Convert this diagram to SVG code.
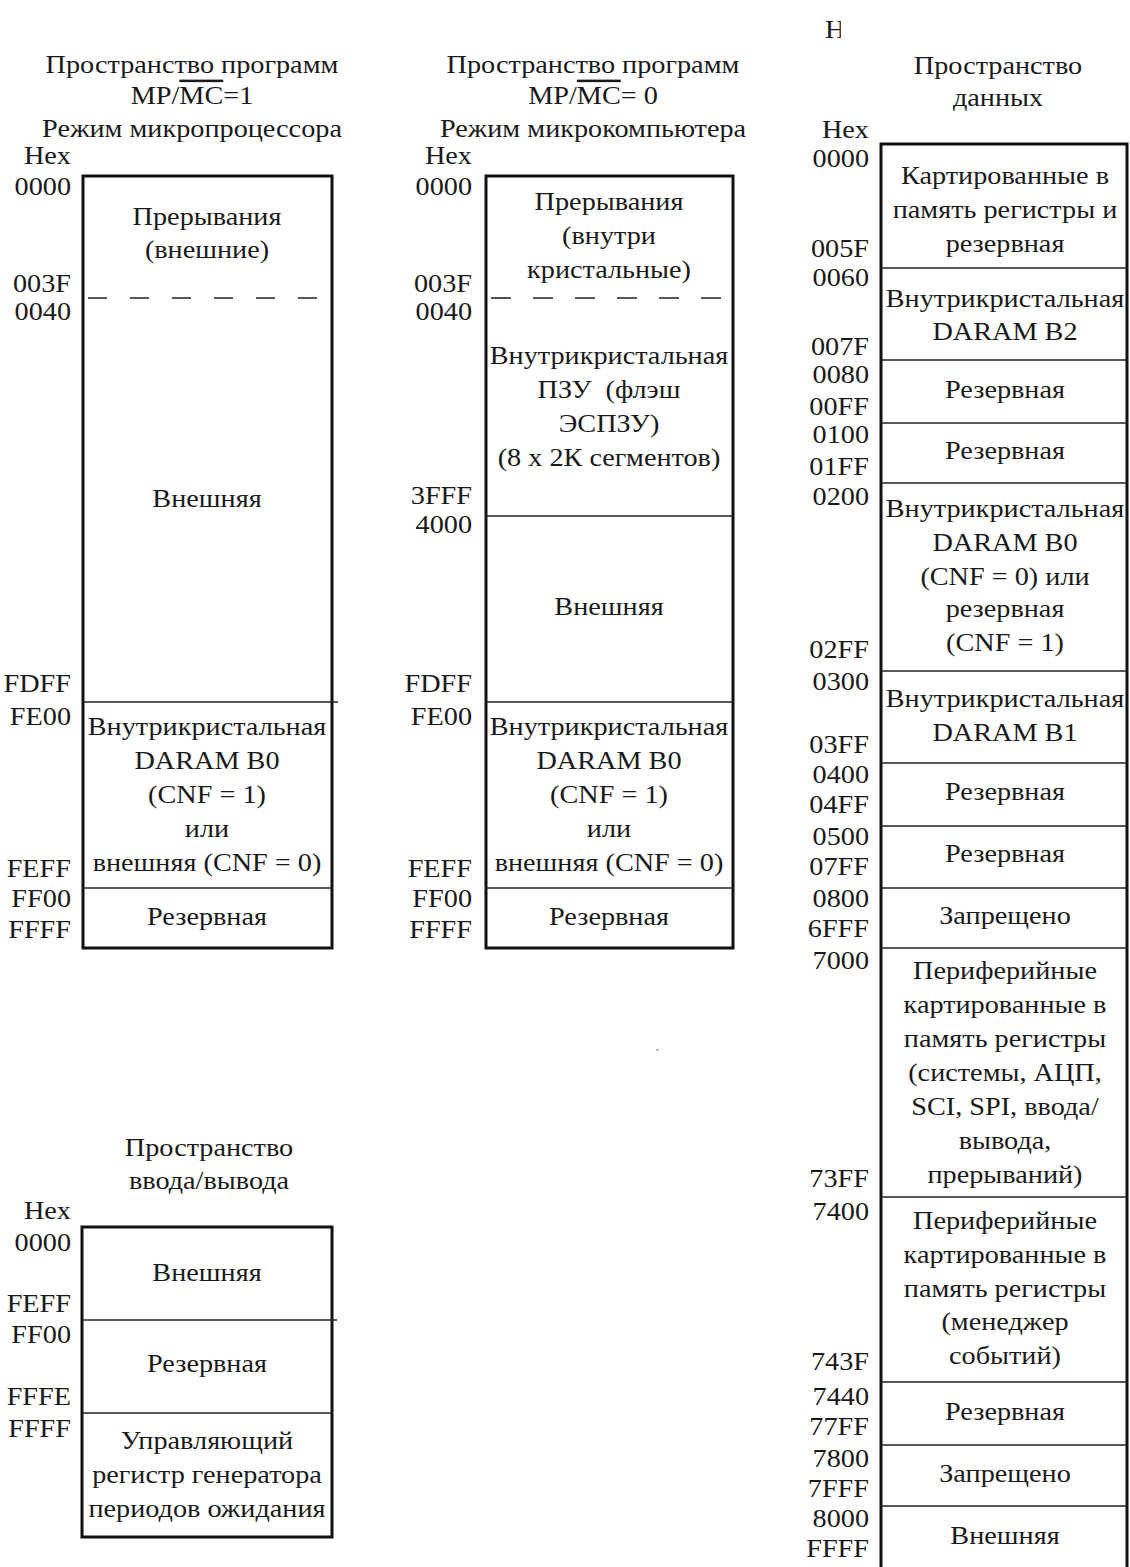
<svg xmlns="http://www.w3.org/2000/svg" width="1130" height="1567" viewBox="0 0 1130 1567">
<style>
text{font-family:"Liberation Serif","Times New Roman",serif;font-size:25px;fill:#1a1a1a}
.c text{text-anchor:middle}
.a text{text-anchor:end}
.box{fill:none;stroke:#111;stroke-width:3}
.div{stroke:#222;stroke-width:1.6;fill:none}
.dash{stroke:#222;stroke-width:1.6;stroke-dasharray:19 23;fill:none}
.ov{text-decoration:overline}
</style>
<defs>
<clipPath id="cutH"><rect x="800" y="0" width="39" height="60"/></clipPath>
</defs>
<rect width="1130" height="1567" fill="#fff"/>

<!-- stray fragment at top -->
<text x="825" y="38" clip-path="url(#cutH)" transform="translate(825 0) scale(1.13 1) translate(-825 0)">Н</text>

<!-- Program space, microprocessor mode -->
<g id="prog-mp">
  <g class="c" transform="translate(192 0) scale(1.13 1)">
    <text y="73">Пространство программ</text>
    <text y="104">MP/<tspan class="ov">MC</tspan>=1</text>
    <text y="137">Режим микропроцессора</text>
  </g>
  <g class="a" transform="translate(71 0) scale(1.13 1)">
    <text y="164">Hex</text>
    <text y="195">0000</text>
    <text y="292">003F</text>
    <text y="320">0040</text>
    <text y="692">FDFF</text>
    <text y="725">FE00</text>
    <text y="877">FEFF</text>
    <text y="907">FF00</text>
    <text y="938">FFFF</text>
  </g>
  <rect class="box" x="83" y="176" width="249" height="772"/>
  <line class="dash" x1="88" y1="298" x2="326" y2="298"/>
  <line class="div" x1="83" y1="702" x2="338" y2="702"/>
  <line class="div" x1="83" y1="888" x2="332" y2="888"/>
  <g class="c" transform="translate(207 0) scale(1.13 1)">
    <text y="225">Прерывания</text>
    <text y="258">(внешние)</text>
    <text y="507">Внешняя</text>
    <text y="735">Внутрикристальная</text>
    <text y="769">DARAM B0</text>
    <text y="803">(CNF = 1)</text>
    <text y="837">или</text>
    <text y="871">внешняя (CNF = 0)</text>
    <text y="925">Резервная</text>
  </g>
</g>

<!-- Program space, microcomputer mode -->
<g id="prog-mc">
  <g class="c" transform="translate(593 0) scale(1.13 1)">
    <text y="73">Пространство программ</text>
    <text y="104">MP/<tspan class="ov">MC</tspan>= 0</text>
    <text y="137">Режим микрокомпьютера</text>
  </g>
  <g class="a" transform="translate(472 0) scale(1.13 1)">
    <text y="164">Hex</text>
    <text y="195">0000</text>
    <text y="292">003F</text>
    <text y="320">0040</text>
    <text y="504">3FFF</text>
    <text y="533">4000</text>
    <text y="692">FDFF</text>
    <text y="725">FE00</text>
    <text y="877">FEFF</text>
    <text y="907">FF00</text>
    <text y="938">FFFF</text>
  </g>
  <rect class="box" x="486" y="176" width="247" height="772"/>
  <line class="dash" x1="491" y1="298" x2="728" y2="298" style="stroke-dasharray:20 22"/>
  <line class="div" x1="486" y1="516" x2="733" y2="516"/>
  <line class="div" x1="486" y1="702" x2="733" y2="702"/>
  <line class="div" x1="486" y1="888" x2="733" y2="888"/>
  <g class="c" transform="translate(609 0) scale(1.13 1)">
    <text y="210">Прерывания</text>
    <text y="244">(внутри</text>
    <text y="278">кристальные)</text>
    <text y="364">Внутрикристальная</text>
    <text y="398" xml:space="preserve">ПЗУ  (флэш</text>
    <text y="432">ЭСПЗУ)</text>
    <text y="466">(8 х 2К сегментов)</text>
    <text y="615">Внешняя</text>
    <text y="735">Внутрикристальная</text>
    <text y="769">DARAM B0</text>
    <text y="803">(CNF = 1)</text>
    <text y="837">или</text>
    <text y="871">внешняя (CNF = 0)</text>
    <text y="925">Резервная</text>
  </g>
</g>

<!-- Data space -->
<g id="data">
  <g class="c" transform="translate(998 0) scale(1.13 1)">
    <text y="74">Пространство</text>
    <text y="106">данных</text>
  </g>
  <g class="a" transform="translate(869 0) scale(1.13 1)">
    <text y="138">Hex</text>
    <text y="167">0000</text>
    <text y="257">005F</text>
    <text y="286">0060</text>
    <text y="355">007F</text>
    <text y="383">0080</text>
    <text y="415">00FF</text>
    <text y="443">0100</text>
    <text y="475">01FF</text>
    <text y="505">0200</text>
    <text y="658">02FF</text>
    <text y="690">0300</text>
    <text y="753">03FF</text>
    <text y="783">0400</text>
    <text y="813">04FF</text>
    <text y="845">0500</text>
    <text y="875">07FF</text>
    <text y="907">0800</text>
    <text y="937">6FFF</text>
    <text y="969">7000</text>
    <text y="1187">73FF</text>
    <text y="1220">7400</text>
    <text y="1370">743F</text>
    <text y="1405">7440</text>
    <text y="1435">77FF</text>
    <text y="1467">7800</text>
    <text y="1497">7FFF</text>
    <text y="1527">8000</text>
    <text y="1557">FFFF</text>
  </g>
  <path class="box" d="M881 1572V144H1127V1572"/>
  <g class="div">
    <line x1="881" y1="268" x2="1127" y2="268"/>
    <line x1="881" y1="360" x2="1127" y2="360"/>
    <line x1="881" y1="423" x2="1127" y2="423"/>
    <line x1="881" y1="483" x2="1127" y2="483"/>
    <line x1="881" y1="671" x2="1127" y2="671"/>
    <line x1="881" y1="763" x2="1127" y2="763"/>
    <line x1="881" y1="826" x2="1127" y2="826"/>
    <line x1="881" y1="888" x2="1127" y2="888"/>
    <line x1="881" y1="948" x2="1127" y2="948"/>
    <line x1="881" y1="1197" x2="1127" y2="1197"/>
    <line x1="881" y1="1382" x2="1127" y2="1382"/>
    <line x1="881" y1="1445" x2="1127" y2="1445"/>
    <line x1="881" y1="1506" x2="1127" y2="1506"/>
  </g>
  <g class="c" transform="translate(1005 0) scale(1.13 1)">
    <text y="184">Картированные в</text>
    <text y="218">память регистры и</text>
    <text y="252">резервная</text>
    <text y="307">Внутрикристальная</text>
    <text y="340">DARAM B2</text>
    <text y="398">Резервная</text>
    <text y="459">Резервная</text>
    <text y="517">Внутрикристальная</text>
    <text y="551">DARAM B0</text>
    <text y="585">(CNF = 0) или</text>
    <text y="617">резервная</text>
    <text y="651">(CNF = 1)</text>
    <text y="707">Внутрикристальная</text>
    <text y="741">DARAM B1</text>
    <text y="800">Резервная</text>
    <text y="862">Резервная</text>
    <text y="924">Запрещено</text>
    <text y="979">Периферийные</text>
    <text y="1013">картированные в</text>
    <text y="1047">память регистры</text>
    <text y="1081">(системы, АЦП,</text>
    <text y="1115">SCI, SPI, ввода/</text>
    <text y="1149">вывода,</text>
    <text y="1183">прерываний)</text>
    <text y="1229">Периферийные</text>
    <text y="1263">картированные в</text>
    <text y="1297">память регистры</text>
    <text y="1330">(менеджер</text>
    <text y="1364">событий)</text>
    <text y="1420">Резервная</text>
    <text y="1482">Запрещено</text>
    <text y="1544">Внешняя</text>
  </g>
</g>

<!-- I/O space -->
<g id="io">
  <g class="c" transform="translate(209 0) scale(1.13 1)">
    <text y="1156">Пространство</text>
    <text y="1189">ввода/вывода</text>
  </g>
  <g class="a" transform="translate(71 0) scale(1.13 1)">
    <text y="1219">Hex</text>
    <text y="1251">0000</text>
    <text y="1312">FEFF</text>
    <text y="1343">FF00</text>
    <text y="1405">FFFE</text>
    <text y="1437">FFFF</text>
  </g>
  <rect class="box" x="82" y="1227" width="250" height="310"/>
  <line class="div" x1="82" y1="1320" x2="337" y2="1320"/>
  <line class="div" x1="82" y1="1413" x2="332" y2="1413"/>
  <g class="c" transform="translate(207 0) scale(1.13 1)">
    <text y="1281">Внешняя</text>
    <text y="1372">Резервная</text>
    <text y="1449">Управляющий</text>
    <text y="1483">регистр генератора</text>
    <text y="1517">периодов ожидания</text>
  </g>
</g>

<rect x="656" y="1049" width="3" height="2" fill="#bbb"/>
</svg>
